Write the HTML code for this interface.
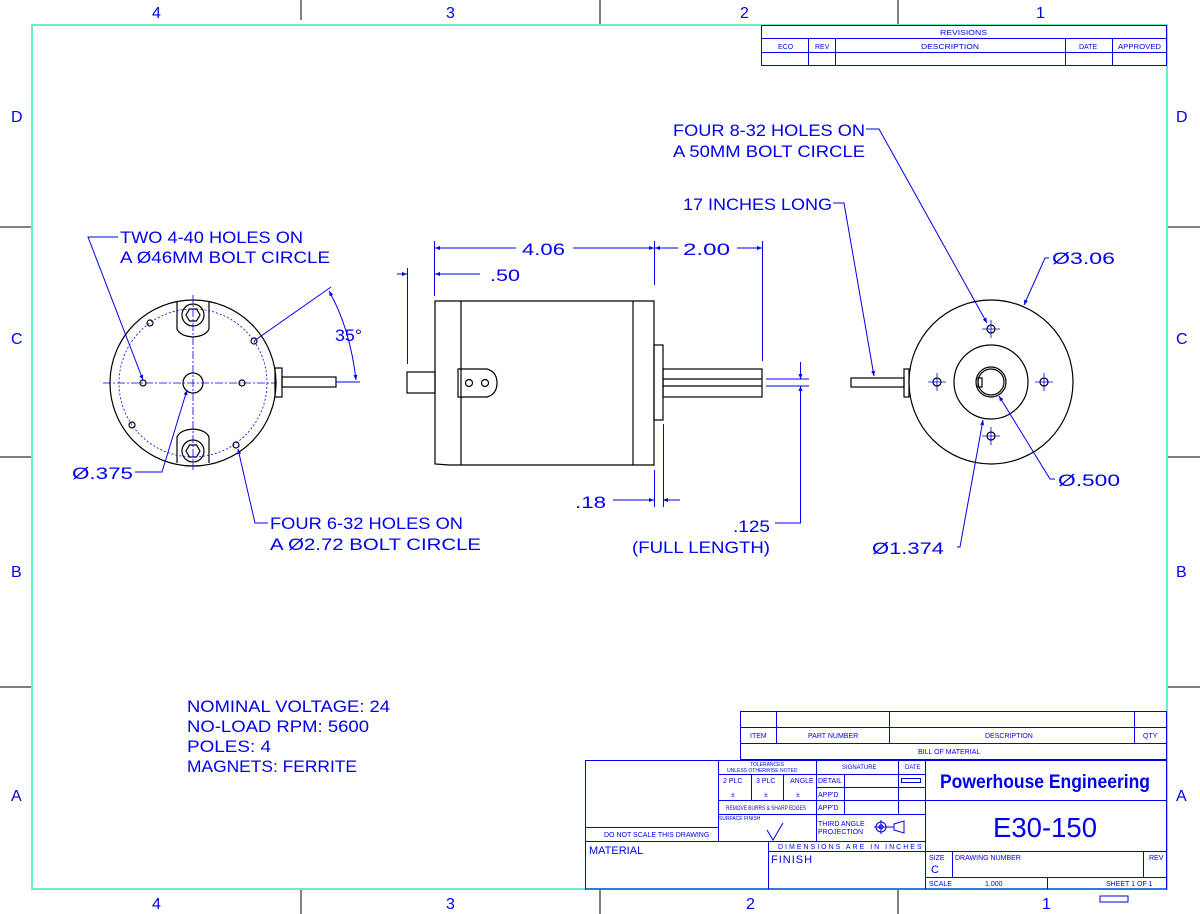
<!DOCTYPE html>
<html><head><meta charset="utf-8"><style>
html,body{margin:0;padding:0;background:#fff;}
svg{display:block;}
text{font-family:"Liberation Sans",sans-serif;fill:#0000ee;}
.t{font-size:7px;}
</style></head><body>
<svg width="1200" height="914" viewBox="0 0 1200 914" xmlns="http://www.w3.org/2000/svg">
<defs>
<marker id="a" viewBox="0 0 10 10" refX="10" refY="5" markerWidth="7" markerHeight="5" orient="auto-start-reverse" markerUnits="userSpaceOnUse"><path d="M0,1 L10,5 L0,9 z" fill="#0000ee"/></marker>
</defs>
<g stroke="#000" stroke-width="1">
<line x1="301" y1="0" x2="301" y2="20"/><line x1="600" y1="0" x2="600" y2="25"/><line x1="898" y1="0" x2="898" y2="25"/>
<line x1="301" y1="889" x2="301" y2="914"/><line x1="600" y1="889" x2="600" y2="914"/><line x1="898" y1="889" x2="898" y2="914"/>
<line x1="0" y1="227" x2="32" y2="227"/><line x1="0" y1="457" x2="32" y2="457"/><line x1="0" y1="687" x2="32" y2="687"/>
<line x1="1167" y1="227" x2="1200" y2="227"/><line x1="1167" y1="457" x2="1200" y2="457"/><line x1="1167" y1="687" x2="1200" y2="687"/>
</g>
<g font-size="16">
<text x="152" y="18">4</text><text x="446" y="18">3</text><text x="740" y="18">2</text><text x="1036" y="18">1</text>
<text x="152" y="909">4</text><text x="446" y="909">3</text><text x="746" y="909">2</text><text x="1042" y="909">1</text>
<text x="11" y="122">D</text><text x="11" y="344">C</text><text x="11" y="577">B</text><text x="11" y="801">A</text>
<text x="1176" y="122">D</text><text x="1176" y="344">C</text><text x="1176" y="577">B</text><text x="1176" y="801">A</text>
</g>
<rect x="32" y="25" width="1135" height="864" fill="none" stroke="#66f0c8" stroke-width="2"/>
<rect x="1100" y="896" width="28" height="6" fill="none" stroke="#0000ee"/>

<g stroke="#0000ee" stroke-width="1" fill="none">
<rect x="761.5" y="25.5" width="405" height="40"/>
<line x1="761" y1="38.5" x2="1167" y2="38.5"/><line x1="761" y1="52.5" x2="1167" y2="52.5"/>
<line x1="808.5" y1="38" x2="808.5" y2="66"/><line x1="835.5" y1="38" x2="835.5" y2="66"/>
<line x1="1065.5" y1="38" x2="1065.5" y2="66"/><line x1="1112.5" y1="38" x2="1112.5" y2="66"/>
</g>
<g class="t">
<text x="940" y="35" textLength="47" lengthAdjust="spacingAndGlyphs">REVISIONS</text>
<text x="778" y="49">ECO</text><text x="815" y="49">REV</text>
<text x="921" y="49" textLength="58" lengthAdjust="spacingAndGlyphs">DESCRIPTION</text>
<text x="1079" y="49">DATE</text><text x="1118" y="49" textLength="43" lengthAdjust="spacingAndGlyphs">APPROVED</text>
</g>

<g stroke="#000" stroke-width="1.2" fill="none">
<circle cx="193" cy="383" r="83"/>
<path d="M177,301 L177,329 Q180,336 193,337 Q206,336 209,329 L209,301"/>
<circle cx="193" cy="315" r="11"/><polygon points="186,315 189.5,309 196.5,309 200,315 196.5,321 189.5,321"/>
<path d="M177,463 L177,437 Q180,430 193,429 Q206,430 209,437 L209,463"/>
<circle cx="193" cy="451" r="11"/><polygon points="186,451 189.5,445 196.5,445 200,451 196.5,457 189.5,457"/>
<circle cx="193" cy="383" r="10"/>
<rect x="275" y="368" width="7" height="29"/>
<rect x="282" y="377" width="54" height="10"/>
<circle cx="150" cy="323" r="3"/><circle cx="254" cy="341" r="3"/><circle cx="143" cy="383" r="3"/>
<circle cx="242" cy="383" r="3"/><circle cx="132" cy="425" r="3"/><circle cx="236" cy="445" r="3"/>
</g>
<g stroke="#0000ee" stroke-width="0.8" fill="none">
<circle cx="193" cy="383" r="74" stroke-dasharray="2,2"/>
<line x1="103" y1="383" x2="275" y2="383" stroke-dasharray="8,2,2,2"/>
<line x1="193" y1="295" x2="193" y2="470" stroke-dasharray="8,2,2,2"/>
</g>
<g stroke="#0000ee" stroke-width="1" fill="none">
<line x1="336" y1="382" x2="360" y2="382"/>
<line x1="254" y1="341" x2="331" y2="287"/>
<path d="M329,291 Q350,328 356,380" marker-end="url(#a)" marker-start="url(#a)"/>
<polyline points="118,237 88,237 143,380" marker-end="url(#a)"/>
<polyline points="135,472 162,472 187,390" marker-end="url(#a)"/>
<polyline points="268,523 255,523 238,449" marker-end="url(#a)"/>
</g>
<text x="335" y="341" font-size="17" textLength="27" lengthAdjust="spacingAndGlyphs">35°</text>
<text x="120" y="243" font-size="17" textLength="183" lengthAdjust="spacingAndGlyphs">TWO 4-40 HOLES ON</text>
<text x="120" y="263" font-size="17" textLength="210" lengthAdjust="spacingAndGlyphs">A Ø46MM BOLT CIRCLE</text>
<text x="72" y="479" font-size="17" textLength="61" lengthAdjust="spacingAndGlyphs">Ø.375</text>
<text x="270" y="529" font-size="17" textLength="193" lengthAdjust="spacingAndGlyphs">FOUR 6-32 HOLES ON</text>
<text x="270" y="550" font-size="17" textLength="211" lengthAdjust="spacingAndGlyphs">A Ø2.72 BOLT CIRCLE</text>

<g stroke="#000" stroke-width="1.2" fill="none">
<path d="M449,301 L654,301 L654,465 L449,465 M449,301 L435,301 L435,464 L449,465"/>
<line x1="461" y1="301" x2="461" y2="465"/><line x1="633" y1="301" x2="633" y2="465"/>
<rect x="407" y="372" width="28" height="21"/>
<path d="M458,369 L487,369 Q497,372 497,383 Q497,394 487,397 L458,397 Z"/>
<circle cx="469" cy="383" r="3.5"/><circle cx="485" cy="383" r="3.5"/>
<rect x="654" y="345" width="9" height="75"/>
<rect x="663" y="369" width="99" height="28"/>
<line x1="663" y1="379" x2="762" y2="379"/><line x1="663" y1="386" x2="762" y2="386"/>
</g>
<g stroke="#0000ee" stroke-width="1" fill="none">
<line x1="434.5" y1="241" x2="434.5" y2="296"/>
<line x1="654.5" y1="241" x2="654.5" y2="285"/>
<line x1="762.5" y1="241" x2="762.5" y2="361"/>
<line x1="407.5" y1="268" x2="407.5" y2="364"/>
<line x1="516" y1="248" x2="435" y2="248" marker-end="url(#a)"/>
<line x1="573" y1="248" x2="654" y2="248" marker-end="url(#a)"/>
<line x1="678" y1="248" x2="655" y2="248" marker-end="url(#a)"/>
<line x1="737" y1="248" x2="762" y2="248" marker-end="url(#a)"/>
<line x1="480" y1="274" x2="435" y2="274" marker-end="url(#a)"/>
<line x1="397" y1="274" x2="407" y2="274" marker-end="url(#a)"/>
<line x1="654.5" y1="470" x2="654.5" y2="507"/>
<line x1="663.5" y1="424" x2="663.5" y2="507"/>
<line x1="613" y1="500" x2="654" y2="500" marker-end="url(#a)"/>
<line x1="680" y1="500" x2="663" y2="500" marker-end="url(#a)"/>
<line x1="766" y1="379" x2="809" y2="379"/><line x1="766" y1="386" x2="809" y2="386"/>
<line x1="800.5" y1="362" x2="800.5" y2="379" marker-end="url(#a)"/>
<polyline points="775,523 800.5,523 800.5,386" marker-end="url(#a)"/>
</g>
<text x="522" y="255" font-size="17" textLength="43" lengthAdjust="spacingAndGlyphs">4.06</text>
<text x="683" y="255" font-size="17" textLength="47" lengthAdjust="spacingAndGlyphs">2.00</text>
<text x="490" y="281" font-size="17" textLength="30" lengthAdjust="spacingAndGlyphs">.50</text>
<text x="575" y="508" font-size="17" textLength="31" lengthAdjust="spacingAndGlyphs">.18</text>
<text x="733" y="532" font-size="17" textLength="37" lengthAdjust="spacingAndGlyphs">.125</text>
<text x="632" y="553" font-size="17" textLength="138" lengthAdjust="spacingAndGlyphs">(FULL LENGTH)</text>

<g stroke="#000" stroke-width="1.2" fill="none">
<circle cx="991" cy="382" r="82"/>
<circle cx="991" cy="382" r="37"/>
<circle cx="991" cy="382" r="15"/><circle cx="991" cy="382" r="13"/>
<rect x="978" y="378" width="4" height="9"/>
<rect x="851" y="378" width="53" height="9"/>
<rect x="904" y="369" width="5" height="28"/>
<circle cx="991" cy="329" r="4"/><circle cx="937" cy="382" r="4"/><circle cx="1044" cy="382" r="4"/><circle cx="991" cy="436" r="4"/>
</g>
<g stroke="#0000ee" stroke-width="0.8">
<path d="M982,329h18M991,320v18M928,382h18M937,373v18M1035,382h18M1044,373v18M982,436h18M991,427v18"/>
</g>
<g stroke="#0000ee" stroke-width="1" fill="none">
<polyline points="866,129 879,129 987,323" marker-end="url(#a)"/>
<polyline points="833,203 844,203 874,376" marker-end="url(#a)"/>
<polyline points="1049,258 1045,258 1024,305" marker-end="url(#a)"/>
<polyline points="1055,479 1050,479 999,396" marker-end="url(#a)"/>
<polyline points="957,547 960,547 983,420" marker-end="url(#a)"/>
</g>
<text x="673" y="136" font-size="17" textLength="192" lengthAdjust="spacingAndGlyphs">FOUR 8-32 HOLES ON</text>
<text x="673" y="157" font-size="17" textLength="192" lengthAdjust="spacingAndGlyphs">A 50MM BOLT CIRCLE</text>
<text x="683" y="210" font-size="17" textLength="149" lengthAdjust="spacingAndGlyphs">17 INCHES LONG</text>
<text x="1052" y="264" font-size="17" textLength="63" lengthAdjust="spacingAndGlyphs">Ø3.06</text>
<text x="1058" y="486" font-size="17" textLength="62" lengthAdjust="spacingAndGlyphs">Ø.500</text>
<text x="872" y="554" font-size="17" textLength="72" lengthAdjust="spacingAndGlyphs">Ø1.374</text>

<g font-size="17">
<text x="187" y="712" textLength="203" lengthAdjust="spacingAndGlyphs">NOMINAL VOLTAGE: 24</text>
<text x="187" y="732" textLength="182" lengthAdjust="spacingAndGlyphs">NO-LOAD RPM: 5600</text>
<text x="187" y="752" textLength="84" lengthAdjust="spacingAndGlyphs">POLES: 4</text>
<text x="187" y="772" textLength="170" lengthAdjust="spacingAndGlyphs">MAGNETS: FERRITE</text>
</g>

<g stroke="#0000ee" stroke-width="1" fill="none">
<rect x="740.5" y="711.5" width="426" height="48"/>
<line x1="740" y1="727.5" x2="1167" y2="727.5"/><line x1="740" y1="743.5" x2="1167" y2="743.5"/>
<line x1="776.5" y1="711" x2="776.5" y2="744"/><line x1="889.5" y1="711" x2="889.5" y2="744"/><line x1="1134.5" y1="711" x2="1134.5" y2="744"/>
<rect x="585.5" y="760.5" width="581" height="128.5"/>
<line x1="718.5" y1="760" x2="718.5" y2="841"/>
<line x1="585" y1="827.5" x2="718" y2="827.5"/>
<line x1="585" y1="841.5" x2="925" y2="841.5"/>
<line x1="768.5" y1="841" x2="768.5" y2="889"/>
<line x1="768" y1="851.5" x2="925" y2="851.5"/>
<line x1="816.5" y1="760" x2="816.5" y2="841"/>
<line x1="925.5" y1="760" x2="925.5" y2="889"/>
<line x1="718" y1="774.5" x2="925" y2="774.5"/>
<line x1="816" y1="787.5" x2="925" y2="787.5"/>
<line x1="718" y1="800.5" x2="1167" y2="800.5"/>
<line x1="718" y1="814.5" x2="925" y2="814.5"/>
<line x1="751.5" y1="774" x2="751.5" y2="800"/><line x1="783.5" y1="774" x2="783.5" y2="800"/>
<line x1="844.5" y1="774" x2="844.5" y2="814"/><line x1="898.5" y1="760" x2="898.5" y2="814"/>
<line x1="925" y1="851.5" x2="1167" y2="851.5"/>
<line x1="925" y1="877.5" x2="1167" y2="877.5"/>
<line x1="952.5" y1="851" x2="952.5" y2="877"/><line x1="1143.5" y1="851" x2="1143.5" y2="877"/>
<line x1="1047.5" y1="877" x2="1047.5" y2="889"/>
<rect x="901.5" y="778.5" width="19" height="4"/>
<path d="M767,830 L773,840 L783,823"/>
<circle cx="881" cy="827" r="5"/><circle cx="881" cy="827" r="2"/>
<path d="M874,827h14M881,820v14M886,827h8M894,824 L904,821 L904,833 L894,830 Z"/>
</g>
<g class="t">
<text x="750" y="738">ITEM</text><text x="808" y="738">PART NUMBER</text>
<text x="985" y="738">DESCRIPTION</text><text x="1143" y="738">QTY</text>
<text x="918" y="754">BILL OF MATERIAL</text>
<text x="750" y="766" font-size="5">TOLERANCES</text>
<text x="727" y="772" font-size="5">UNLESS OTHERWISE NOTED</text>
<text x="842" y="769" font-size="6">SIGNATURE</text><text x="905" y="769" font-size="6">DATE</text>
<text x="723" y="783">2 PLC</text><text x="756" y="783">3 PLC</text><text x="790" y="783">ANGLE</text>
<text x="731" y="797">±</text><text x="764" y="797">±</text><text x="796" y="797">±</text>
<text x="818" y="783">DETAIL</text><text x="818" y="797">APP'D</text><text x="818" y="810">APP'D</text>
<text x="726" y="810" font-size="6" textLength="80" lengthAdjust="spacingAndGlyphs">REMOVE BURRS &amp; SHARP EDGES</text>
<text x="719" y="820" font-size="5">SURFACE FINISH</text>
<text x="818" y="826">THIRD ANGLE</text><text x="818" y="834">PROJECTION</text>
<text x="604" y="837">DO NOT SCALE THIS DRAWING</text>
<text x="778" y="849" letter-spacing="2">DIMENSIONS ARE IN INCHES</text>
<text x="589" y="854" font-size="11">MATERIAL</text>
<text x="771" y="863" font-size="11" letter-spacing="1">FINISH</text>
<text x="929" y="860">SIZE</text><text x="931" y="873" font-size="11">C</text>
<text x="955" y="860">DRAWING NUMBER</text><text x="1149" y="860">REV</text>
<text x="929" y="886">SCALE</text><text x="985" y="886">1.000</text><text x="1106" y="886">SHEET 1 OF 1</text>
</g>
<text x="940" y="788" font-size="19" font-weight="bold" textLength="210" lengthAdjust="spacingAndGlyphs">Powerhouse Engineering</text>
<text x="993" y="837" font-size="28" textLength="104" lengthAdjust="spacingAndGlyphs">E30-150</text>
</svg>
</body></html>
